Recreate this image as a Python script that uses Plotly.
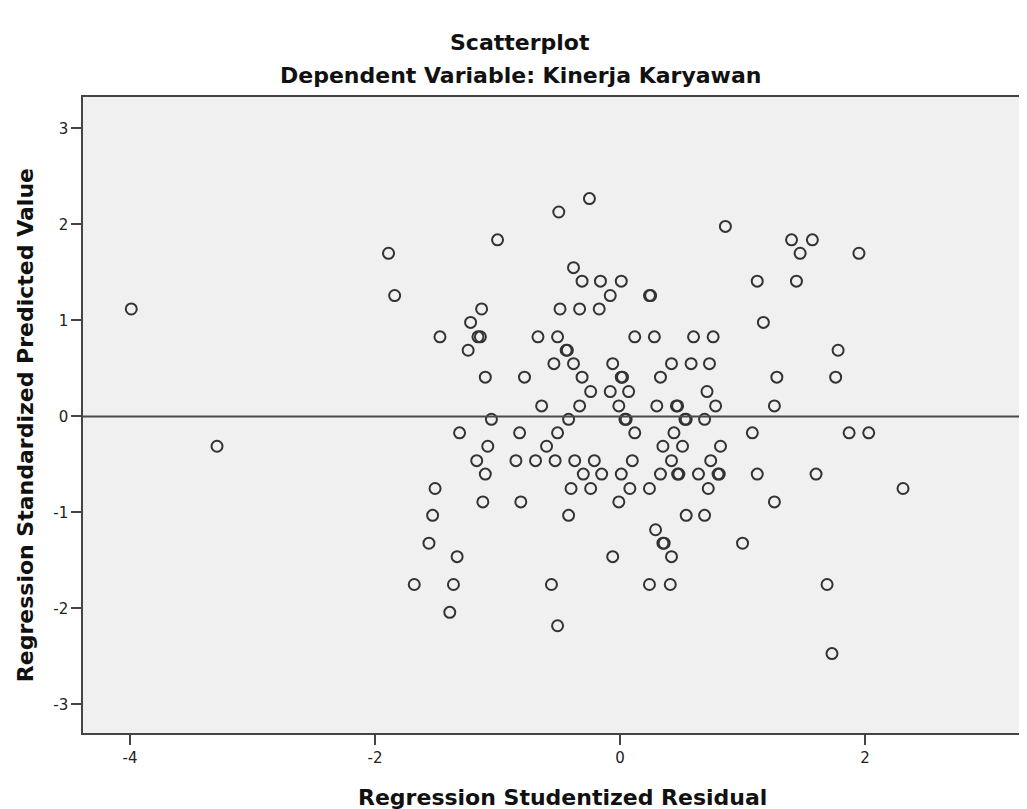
import plotly.graph_objects as go

# Regression Studentized Residual (x) grouped by predicted-value level (y)
levels = [2.27, 2.13, 1.98, 1.84, 1.70, 1.55, 1.41, 1.26, 1.12, 0.98, 0.83, 0.69, 0.55,
          0.41, 0.26, 0.11, -0.03, -0.17, -0.31, -0.46, -0.60, -0.75, -0.89, -1.03,
          -1.18, -1.32, -1.46, -1.75, -2.04, -2.18, -2.47]
residuals_by_level = [
    [-0.25],
    [-0.50],
    [0.86],
    [-1.00, 1.40, 1.57],
    [-1.89, 1.47, 1.95],
    [-0.38],
    [-0.31, -0.16, 0.01, 1.12, 1.44],
    [-1.84, -0.08, 0.24, 0.25],
    [-3.99, -1.13, -0.49, -0.33, -0.17],
    [-1.22, 1.17],
    [-1.47, -1.16, -1.14, -0.67, -0.51, 0.12, 0.28, 0.60, 0.76],
    [-1.24, -0.44, -0.43, 1.78],
    [-0.54, -0.38, -0.06, 0.42, 0.58, 0.73],
    [-1.10, -0.78, -0.31, 0.01, 0.02, 0.33, 1.28, 1.76],
    [-0.24, -0.08, 0.07, 0.71],
    [-0.64, -0.33, -0.01, 0.30, 0.46, 0.47, 0.78, 1.26],
    [-1.05, -0.42, 0.04, 0.05, 0.53, 0.54, 0.69],
    [-1.31, -0.82, -0.51, 0.12, 0.44, 1.08, 1.87, 2.03],
    [-3.29, -1.08, -0.60, 0.35, 0.51, 0.82],
    [-1.17, -0.85, -0.69, -0.53, -0.37, -0.21, 0.10, 0.42, 0.74],
    [-1.10, -0.30, -0.15, 0.01, 0.33, 0.47, 0.48, 0.64, 0.80, 0.81, 1.12, 1.60],
    [-1.51, -0.40, -0.24, 0.08, 0.24, 0.72, 2.31],
    [-1.12, -0.81, -0.01, 1.26],
    [-1.53, -0.42, 0.54, 0.69],
    [0.29],
    [-1.56, 0.35, 0.36, 1.00],
    [-1.33, -0.06, 0.42],
    [-1.68, -1.36, -0.56, 0.24, 0.41, 1.69],
    [-1.39],
    [-0.51],
    [1.73],
]

residuals = []
predicted = []
for lv, xs in zip(levels, residuals_by_level):
    for xv in xs:
        residuals.append(xv)
        predicted.append(lv)

x_ticks = [-4, -2, 0, 2]
x_tick_text = ["-4", "-2", "0", "2"]
y_ticks = [-3, -2, -1, 0, 1, 2, 3]
y_tick_text = ["-3", "-2", "-1", "0", "1", "2", "3"]

FONT = "DejaVu Sans, Verdana, sans-serif"
DARK = "#333333"
LINE = "#444444"

fig = go.Figure()
fig.add_trace(go.Scatter(
    x=residuals, y=predicted, mode="markers",
    marker=dict(symbol="circle-open", size=11, color=DARK, line=dict(width=2, color=DARK)),
    showlegend=False, hoverinfo="x+y",
))

fig.add_shape(type="line", xref="paper", yref="y", x0=0, x1=1, y0=0, y1=0,
              line=dict(color="#4a4a4a", width=2))

axis_common = dict(showgrid=False, zeroline=False, showline=True,
                   linecolor=LINE, linewidth=1.5, ticks="outside", ticklen=10,
                   tickwidth=2, tickcolor=LINE,
                   tickfont=dict(size=15, family=FONT, color="#222222"))

fig.update_layout(
    width=1019, height=801,
    margin=dict(l=75, r=0, t=89, b=76),
    paper_bgcolor="white", plot_bgcolor="#f0f0f0",
    font=dict(family=FONT, size=15, color="#222222"),
    xaxis=dict(range=[-4.384, 3.322], tickvals=x_ticks, ticktext=x_tick_text,
               mirror=True, **axis_common),
    yaxis=dict(range=[-3.297, 3.328], tickvals=y_ticks, ticktext=y_tick_text,
               mirror=False, **axis_common),
    annotations=[
        dict(text="<b>Scatterplot</b>", xref="paper", yref="paper", x=0.463, y=1,
             xanchor="center", yanchor="middle", showarrow=False,
             font=dict(size=22, family=FONT, color="#111111"),
             yshift=97 - 42),
        dict(text="<b>Dependent Variable: Kinerja Karyawan</b>", xref="paper", yref="paper",
             x=0.463, y=1, xanchor="center", yanchor="middle", showarrow=False,
             font=dict(size=22, family=FONT, color="#111111"),
             yshift=97 - 75),
        dict(text="<b>Regression Studentized Residual</b>", xref="paper", yref="paper",
             x=0.508, y=0, xanchor="center", yanchor="middle", showarrow=False,
             font=dict(size=22, family=FONT, color="#111111"),
             yshift=-(797 - 733)),
        dict(text="<b>Regression Standardized Predicted Value</b>", xref="paper", yref="paper",
             x=0, y=0.484, xanchor="center", yanchor="middle", showarrow=False, textangle=-90,
             font=dict(size=22, family=FONT, color="#111111"),
             xshift=-(83 - 25)),
    ],
)

fig.write_html("out.html")
